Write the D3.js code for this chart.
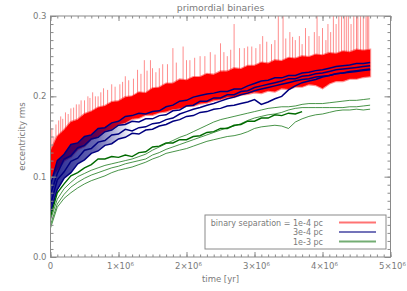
<!DOCTYPE html>
<html><head><meta charset="utf-8">
<script src="https://cdn.jsdelivr.net/npm/d3@7"></script>
<style>
body{margin:0;background:#fff;}
svg{display:block;}
text{font-family:"DejaVu Sans",sans-serif;fill:#7a7a7a;}
</style>
</head><body><svg id="c" width="407" height="291"></svg>
<script>
// time sampled every 0.1 Myr (units of 1e6 yr)
const timeStep = 0.1;

// red runs (1e-4 pc): dense band low / high envelope
const redLow = [
 0.097,0.108,0.120,0.125,0.134,0.138,0.147,0.150,0.157,0.159,
 0.165,0.167,0.172,0.173,0.177,0.177,0.180,0.181,0.184,0.185,
 0.188,0.188,0.191,0.192,0.195,0.196,0.199,0.199,0.202,0.203,
 0.205,0.204,0.207,0.206,0.210,0.209,0.212,0.212,0.215,0.214,
 0.210,0.216,0.219,0.219,0.222,0.222,0.224,0.225];
const redHigh = [
 0.132,0.150,0.158,0.168,0.171,0.178,0.181,0.186,0.188,0.193,
 0.194,0.199,0.200,0.205,0.204,0.210,0.211,0.216,0.216,0.221,
 0.220,0.224,0.224,0.228,0.227,0.231,0.231,0.235,0.234,0.238,
 0.238,0.242,0.241,0.245,0.244,0.248,0.247,0.250,0.249,0.252,
 0.251,0.254,0.253,0.256,0.255,0.258,0.257,0.258];
// red spikes: time (1e6 yr) and peak value
const spikeTimes = [
 0.02,0.05,0.08,0.12,0.15,0.18,0.22,0.26,0.30,0.34,0.38,0.42,0.45,0.50,0.55,0.58,0.62,0.66,0.70,0.74,
 0.78,0.84,0.90,0.95,1.02,1.06,1.10,1.15,1.22,1.28,1.33,1.38,1.42,1.47,1.50,1.55,1.60,1.65,1.72,1.80,
 1.85,1.95,2.00,2.05,2.12,2.20,2.27,2.35,2.42,2.50,2.55,2.60,2.65,2.70,2.78,2.85,2.90,2.96,3.02,3.08,
 3.12,3.18,3.25,3.30,3.35,3.42,3.46,3.52,3.56,3.60,3.66,3.70,3.75,3.80,3.88,3.92,3.95,4.00,4.05,4.08,
 4.12,4.16,4.20,4.24,4.28,4.32,4.35,4.38,4.42,4.46,4.50,4.52,4.56,4.60,4.64,4.66,4.68];
const spikePeaks = [
 0.160,0.150,0.165,0.170,0.175,0.172,0.180,0.178,0.185,0.186,0.190,0.190,0.195,0.195,0.200,0.198,0.205,0.200,0.200,0.205,
 0.210,0.208,0.215,0.212,0.215,0.218,0.225,0.220,0.222,0.233,0.228,0.245,0.232,0.245,0.235,0.230,0.235,0.240,0.240,0.260,
 0.242,0.262,0.245,0.245,0.248,0.250,0.250,0.255,0.252,0.266,0.255,0.250,0.258,0.290,0.260,0.260,0.262,0.262,0.260,0.265,
 0.275,0.268,0.265,0.270,0.310,0.305,0.272,0.280,0.274,0.270,0.275,0.265,0.285,0.275,0.280,0.300,0.275,0.285,0.270,0.290,
 0.280,0.300,0.290,0.310,0.310,0.300,0.310,0.310,0.290,0.310,0.310,0.310,0.300,0.310,0.310,0.300,0.310];

// blue runs (3e-4 pc)
const blue1 = [
 0.090,0.120,0.128,0.140,0.142,0.150,0.152,0.160,0.161,0.167,
 0.169,0.175,0.176,0.179,0.178,0.181,0.182,0.187,0.189,0.194,
 0.195,0.199,0.201,0.203,0.204,0.206,0.206,0.209,0.209,0.213,
 0.216,0.219,0.220,0.223,0.223,0.226,0.226,0.229,0.230,0.232,
 0.233,0.235,0.237,0.238,0.239,0.241,0.241,0.242];
const blue2 = [
 0.078,0.104,0.122,0.126,0.136,0.139,0.147,0.149,0.156,0.158,
 0.164,0.165,0.169,0.168,0.172,0.172,0.176,0.177,0.182,0.183,
 0.188,0.189,0.194,0.194,0.198,0.198,0.202,0.202,0.206,0.207,
 0.211,0.213,0.215,0.217,0.219,0.222,0.222,0.225,0.226,0.228,
 0.229,0.231,0.233,0.234,0.235,0.236,0.237,0.238];
const blue3 = [
 0.065,0.096,0.106,0.119,0.123,0.133,0.135,0.143,0.145,0.152,
 0.153,0.159,0.157,0.161,0.162,0.166,0.167,0.171,0.173,0.178,
 0.181,0.184,0.186,0.189,0.191,0.194,0.197,0.199,0.202,0.204,
 0.207,0.209,0.211,0.213,0.215,0.217,0.219,0.221,0.222,0.224,
 0.225,0.226,0.228,0.229,0.231,0.232,0.233,0.234];
const blue4 = [
 0.055,0.084,0.098,0.105,0.116,0.121,0.129,0.132,0.139,0.141,
 0.147,0.149,0.154,0.153,0.158,0.159,0.163,0.165,0.169,0.171,
 0.175,0.176,0.180,0.181,0.184,0.185,0.188,0.189,0.191,0.193,
 0.196,0.190,0.193,0.197,0.200,0.208,0.213,0.217,0.219,0.221,
 0.224,0.226,0.228,0.229,0.230,0.231,0.232,0.233];
// number of early samples where the blue runs overlap into a dense band
const blueDenseCount = 13;

// green runs (1e-3 pc)
const green1 = [
 0.050,0.080,0.091,0.101,0.105,0.111,0.115,0.122,0.122,0.125,
 0.124,0.127,0.125,0.130,0.131,0.137,0.138,0.142,0.142,0.146,
 0.146,0.150,0.151,0.155,0.156,0.160,0.160,0.164,0.165,0.169,
 0.169,0.173,0.173,0.177,0.176,0.179,0.178,0.181];
const green2 = [
 0.046,0.072,0.085,0.093,0.100,0.104,0.108,0.111,0.114,0.116,
 0.118,0.120,0.122,0.125,0.128,0.133,0.137,0.141,0.145,0.149,
 0.152,0.156,0.160,0.164,0.168,0.171,0.173,0.175,0.177,0.179,
 0.181,0.183,0.185,0.186,0.187,0.187,0.188,0.190,0.191,0.191,
 0.191,0.192,0.193,0.194,0.195,0.195,0.196,0.197];
const green3 = [
 0.040,0.066,0.078,0.087,0.093,0.098,0.102,0.105,0.108,0.111,
 0.113,0.116,0.118,0.120,0.122,0.127,0.130,0.134,0.137,0.140,
 0.143,0.146,0.149,0.152,0.155,0.158,0.161,0.163,0.166,0.170,
 0.173,0.175,0.177,0.178,0.180,0.183,0.185,0.186,0.186,0.186,
 0.186,0.186,0.186,0.186,0.187,0.187,0.188,0.189];
const green4 = [
 0.036,0.062,0.073,0.080,0.086,0.091,0.095,0.098,0.101,0.105,
 0.108,0.110,0.112,0.115,0.118,0.122,0.125,0.129,0.131,0.133,
 0.135,0.138,0.141,0.144,0.146,0.148,0.150,0.151,0.153,0.156,
 0.160,0.162,0.163,0.164,0.163,0.160,0.168,0.172,0.175,0.177,
 0.178,0.180,0.182,0.183,0.183,0.184,0.183,0.184];

const xMajorTicks = [0,1,2,3,4,5];
const xTickLabels = ["0","1×10","2×10","3×10","4×10","5×10"];
const yMajorTicks = [0,0.1,0.2,0.3];
const yTickLabels = ["0.0","0.1","0.2","0.3"];
const legendLabels = ["binary separation = 1e-4 pc","3e-4 pc","1e-3 pc"];
const seriesColors = ["#ff0000","#00007f","#006a00"];

const svg = d3.select("#c");
const L = 50.5, R = 390.5, T = 16, B = 257;
const x = d3.scaleLinear().domain([0,5]).range([L,R]);
const y = d3.scaleLinear().domain([0,0.3]).range([B,T]);
const tOf = i => i * timeStep;

const defs = svg.append("defs");
defs.append("clipPath").attr("id","clip").append("rect")
  .attr("x",L).attr("y",T).attr("width",R-L).attr("height",B-T);
const grad = defs.append("linearGradient").attr("id","bgrad")
  .attr("gradientUnits","userSpaceOnUse")
  .attr("x1",x(0)).attr("x2",x(tOf(blueDenseCount-1))).attr("y1",0).attr("y2",0);
grad.append("stop").attr("offset",0).attr("stop-color",seriesColors[1]).attr("stop-opacity",0.85);
grad.append("stop").attr("offset",0.55).attr("stop-color",seriesColors[1]).attr("stop-opacity",0.6);
grad.append("stop").attr("offset",1).attr("stop-color",seriesColors[1]).attr("stop-opacity",0);

const plot = svg.append("g").attr("clip-path","url(#clip)");

// red spikes
const lowInterp = d3.scaleLinear().domain(redLow.map((_,i)=>tOf(i))).range(redLow);
plot.append("g").selectAll("line").data(spikeTimes).join("line")
  .attr("x1",d=>x(d)).attr("x2",d=>x(d))
  .attr("y1",d=>y(lowInterp(d))).attr("y2",(d,i)=>y(spikePeaks[i]))
  .attr("stroke","#ff0000").attr("stroke-opacity",0.45).attr("stroke-width",1);

// red band
const area = d3.area().x((d,i)=>x(tOf(i))).y0((d,i)=>y(redLow[i])).y1((d,i)=>y(redHigh[i]));
plot.append("path").datum(redLow).attr("d",area)
  .attr("fill","#ff0000").attr("stroke","#ff0000").attr("stroke-opacity",0.45).attr("stroke-width",2.2);

// dense early blue band (fading out as runs separate)
const bArea = d3.area().x((d,i)=>x(tOf(i))).y0((d,i)=>y(blue4[i])).y1((d,i)=>y(blue1[i]));
plot.append("path").datum(blue1.slice(0,blueDenseCount)).attr("d",bArea)
  .attr("fill","url(#bgrad)");

const line = d3.line().x((d,i)=>x(tOf(i))).y(d=>y(d));
[blue1,blue2,blue3,blue4].forEach(s=>{
  plot.append("path").datum(s).attr("d",line).attr("fill","none")
    .attr("stroke",seriesColors[1]).attr("stroke-width",1.5);
});
[green1,green2,green3,green4].forEach((s,k)=>{
  plot.append("path").datum(s).attr("d",line).attr("fill","none")
    .attr("stroke",seriesColors[2]).attr("stroke-opacity",k===0?1:0.8)
    .attr("stroke-width",k===0?1.4:0.9);
});

// frame
svg.append("rect").attr("x",L).attr("y",T).attr("width",R-L).attr("height",B-T)
  .attr("fill","none").attr("stroke","#8a8a8a").attr("stroke-width",1);

const axisCol = "#8a8a8a";
function styleAxis(g){ g.select(".domain").remove(); g.selectAll("line").attr("stroke",axisCol); g.selectAll("text").remove(); }
const xMinor = d3.range(0,51).map(v=>v/10);
const yMinor = d3.range(0,31).map(v=>v/100);
svg.append("g").attr("transform",`translate(0,${B})`).call(d3.axisBottom(x).tickValues(xMinor).tickSize(-2.5)).call(styleAxis);
svg.append("g").attr("transform",`translate(0,${B})`).call(d3.axisBottom(x).tickValues(xMajorTicks).tickSize(-5)).call(styleAxis);
svg.append("g").attr("transform",`translate(0,${T})`).call(d3.axisTop(x).tickValues(xMinor).tickSize(-2.5)).call(styleAxis);
svg.append("g").attr("transform",`translate(0,${T})`).call(d3.axisTop(x).tickValues(xMajorTicks).tickSize(-5)).call(styleAxis);
svg.append("g").attr("transform",`translate(${L},0)`).call(d3.axisLeft(y).tickValues(yMinor).tickSize(-3)).call(styleAxis);
svg.append("g").attr("transform",`translate(${L},0)`).call(d3.axisLeft(y).tickValues(yMajorTicks).tickSize(-6)).call(styleAxis);
svg.append("g").attr("transform",`translate(${R},0)`).call(d3.axisRight(y).tickValues(yMinor).tickSize(-3)).call(styleAxis);
svg.append("g").attr("transform",`translate(${R},0)`).call(d3.axisRight(y).tickValues(yMajorTicks).tickSize(-6)).call(styleAxis);

// tick labels
svg.append("g").selectAll("text").data(yMajorTicks).join("text")
  .attr("x",L-4).attr("y",d=>y(d)+3).attr("text-anchor","end").attr("font-size",8.5)
  .text((d,i)=>yTickLabels[i]);
const xl = svg.append("g").selectAll("text").data(xMajorTicks).join("text")
  .attr("x",d=>x(d)+(d===0?0:2)).attr("y",B+12).attr("text-anchor","middle").attr("font-size",8.5);
xl.append("tspan").text((d,i)=>xTickLabels[i]);
xl.filter(d=>d!==0).append("tspan").attr("dy",-3.5).attr("font-size",5.5).text("6");

svg.append("text").attr("x",(L+R)/2).attr("y",B+25).attr("text-anchor","middle").attr("font-size",8.5).text("time [yr]");
svg.append("text").attr("transform",`translate(25,${(T+B)/2}) rotate(-90)`).attr("text-anchor","middle").attr("font-size",8.5).text("eccentricity rms");
svg.append("text").attr("x",(L+R)/2).attr("y",11).attr("text-anchor","middle").attr("font-size",9.3).text("primordial binaries");

// legend
const lg = svg.append("g");
lg.append("rect").attr("x",205).attr("y",215).attr("width",181).attr("height",34)
  .attr("fill","#fff").attr("stroke","#8a8a8a").attr("stroke-width",1);
legendLabels.forEach((lab,i)=>{
  const yy = 222.5 + i*9.5;
  lg.append("text").attr("x",323).attr("y",yy+3).attr("text-anchor","end").attr("font-size",8).text(lab);
  lg.append("line").attr("x1",339).attr("x2",376).attr("y1",yy).attr("y2",yy)
    .attr("stroke",seriesColors[i]).attr("stroke-opacity",0.55).attr("stroke-width",1.8);
});
</script>
</body></html>
